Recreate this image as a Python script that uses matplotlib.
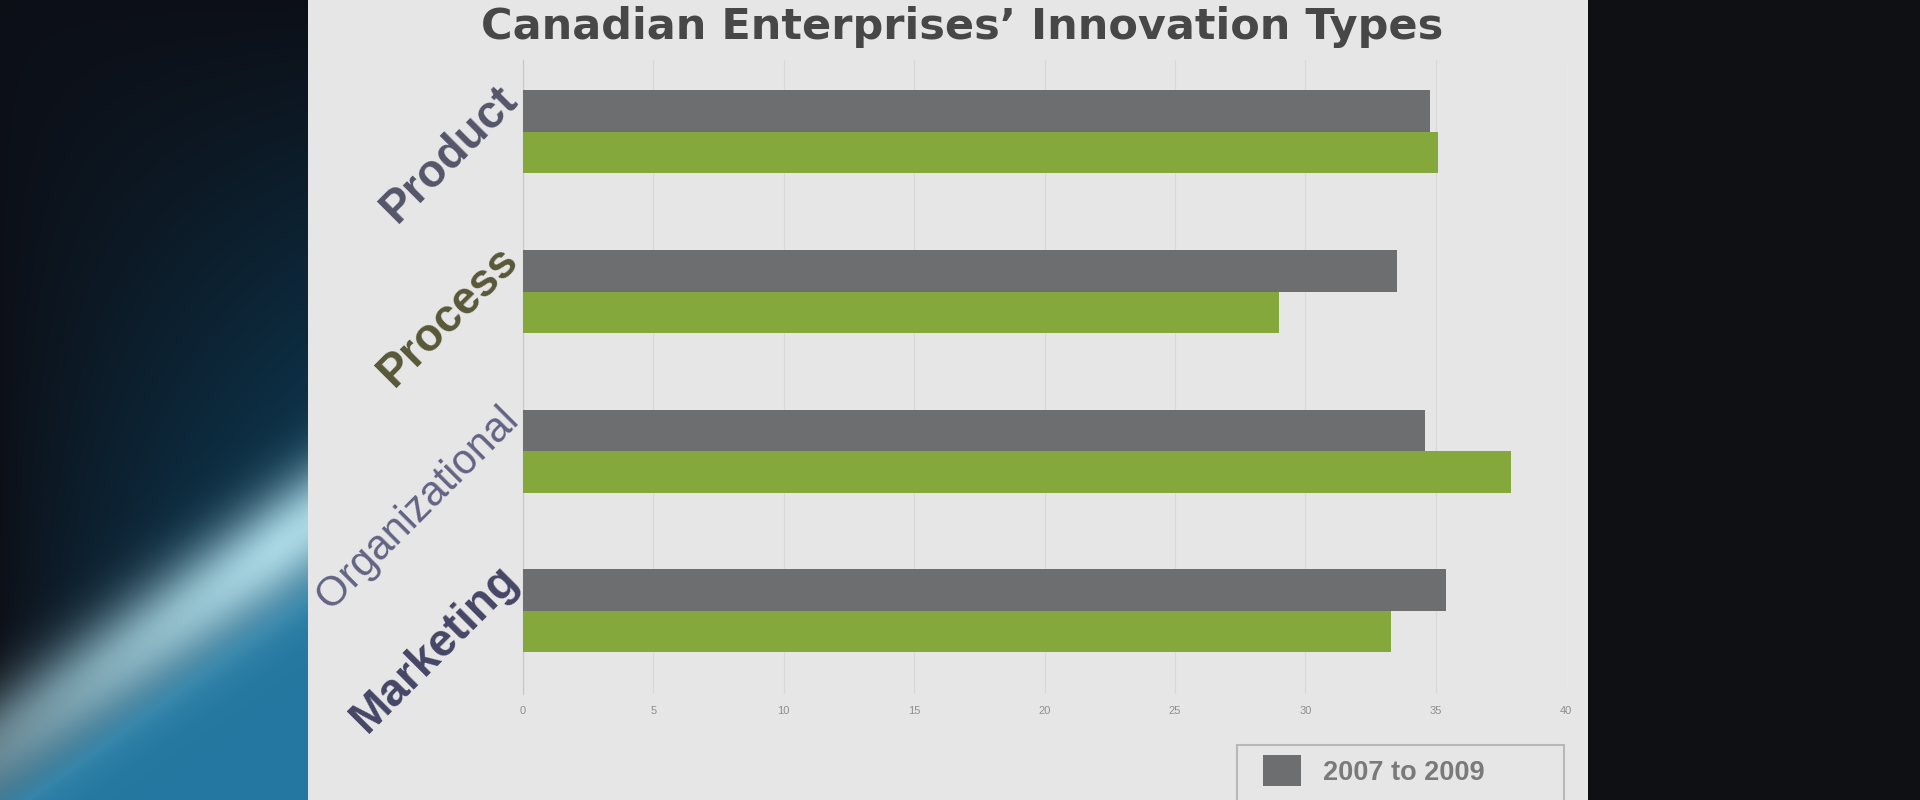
import numpy as np
import matplotlib
matplotlib.use("Agg")
import matplotlib.pyplot as plt
from matplotlib.patches import Rectangle
from matplotlib.transforms import blended_transform_factory

# ---- data ----
categories = ["Product", "Process", "Organizational", "Marketing"]
series_names = ["2007 to 2009"]
values_2007_2009 = [34.8, 33.5, 34.6, 35.4]
values_second = [35.1, 29.0, 37.9, 33.3]
xticks = [0, 5, 10, 15, 20, 25, 30, 35, 40]
title = "Canadian Enterprises\u2019 Innovation Types"

# ---- styles ----
W, H = 1920, 800
GRAY = "#6d6e70"
GREEN = "#84a83b"
SLIDE = "#e6e6e6"
label_colors = ["#55556a", "#585838", "#626284", "#454565"]
label_weights = ["bold", "bold", "normal", "bold"]
label_sizes = [33, 33, 30, 33]

plt.rcParams["font.family"] = ["Liberation Sans", "DejaVu Sans"]

fig = plt.figure(figsize=(W / 100, H / 100), dpi=100, facecolor="#0f1014")

# left background glow (decorative)
bg_w = 308
bg = fig.add_axes([0, 0, bg_w / W, 1], zorder=-5)
yy, xx = np.mgrid[0:H, 0:bg_w].astype(float)
x0, y0, x1, y1 = 0, 745, bg_w, 525
nx, ny = (y1 - y0), -(x1 - x0)
nrm = np.hypot(nx, ny)
d = ((xx - x0) * nx + (yy - y0) * ny) / nrm  # positive above the band
band = np.exp(-(d / 48.0) ** 2) * np.clip(0.6 + xx / bg_w * 0.45, 0, 1)
base_dark = np.array([0.05, 0.06, 0.09])
teal = np.array([0.05, 0.22, 0.32])
lowblue = np.array([0.14, 0.47, 0.63])
light = np.array([0.66, 0.84, 0.89])
t_teal = np.clip((xx / bg_w) ** 0.8 * np.clip(yy / 550, 0, 1) * 1.1, 0, 1)[..., None]
img = base_dark * (1 - t_teal) + teal * t_teal
below = np.clip(-d / 60.0, 0, 1)[..., None]
img = img * (1 - below) + lowblue * below
img = img * (1 - band[..., None]) + light * band[..., None]
bg.imshow(img, aspect="auto", extent=[0, bg_w, H, 0])
bg.set_axis_off()

# slide
fig.patches.append(Rectangle((308 / W, 0), (1588 - 308) / W, 1, transform=fig.transFigure,
                             facecolor=SLIDE, edgecolor="none", zorder=-10))

# chart axes
ax = fig.add_axes([523 / W, 1 - 694 / H, (1566 - 523) / W, 634 / H], zorder=2)
ax.set_facecolor("none")
pos = np.arange(len(categories))
h = 0.26
bars1 = ax.barh(pos - h / 2, values_2007_2009, height=h, color=GRAY, zorder=3,
                label=series_names[0])
bars2 = ax.barh(pos + h / 2, values_second, height=h, color=GREEN, zorder=3)
ax.set_xlim(0, 40)
ax.set_ylim(3.52, -0.45)
ax.set_xticks(xticks)
ax.set_xticklabels([str(t) for t in xticks], fontsize=8, color="#8e8e8e")
ax.tick_params(axis="x", length=0, pad=9)
ax.set_yticks([])
ax.grid(axis="x", color="#d9d9d9", lw=0.9, zorder=0)
for s in ["top", "right", "bottom"]:
    ax.spines[s].set_visible(False)
ax.spines["left"].set_color("#c8c8c8")
ax.spines["left"].set_linewidth(0.9)

tr = blended_transform_factory(ax.transAxes, ax.transData)
for i, cat in enumerate(categories):
    ax.text(-0.003, pos[i] - h / 2 - 0.06, cat, transform=tr, rotation=45,
            rotation_mode="anchor", ha="right", va="baseline",
            fontsize=label_sizes[i], fontweight=label_weights[i],
            color=label_colors[i], clip_on=False)

fig.text(962 / W, 1 - 27 / H, title, ha="center", va="center", fontsize=31,
         fontweight="bold", color="#474747", family=["DejaVu Sans"])

# legend (box continues below the visible slide)
fig.patches.append(Rectangle((1237 / W, -0.05), (1564 - 1237) / W, 0.05 + 55 / H,
                             transform=fig.transFigure, facecolor=SLIDE,
                             edgecolor="#b8b8b8", lw=1.5, zorder=1))
leg = fig.legend(handles=[bars1], labels=[series_names[0]], loc="upper left",
                 bbox_to_anchor=(1263 / W, 1 - 755 / H), frameon=False,
                 fontsize=19.5, handlelength=1.4, handleheight=1.4,
                 handletextpad=0.8, borderpad=0.0, borderaxespad=0)
leg.set_zorder(3)
for t in leg.get_texts():
    t.set_color("#7a7a7a")
    t.set_fontweight("bold")

fig.savefig("out.png", dpi=100, facecolor=fig.get_facecolor())
